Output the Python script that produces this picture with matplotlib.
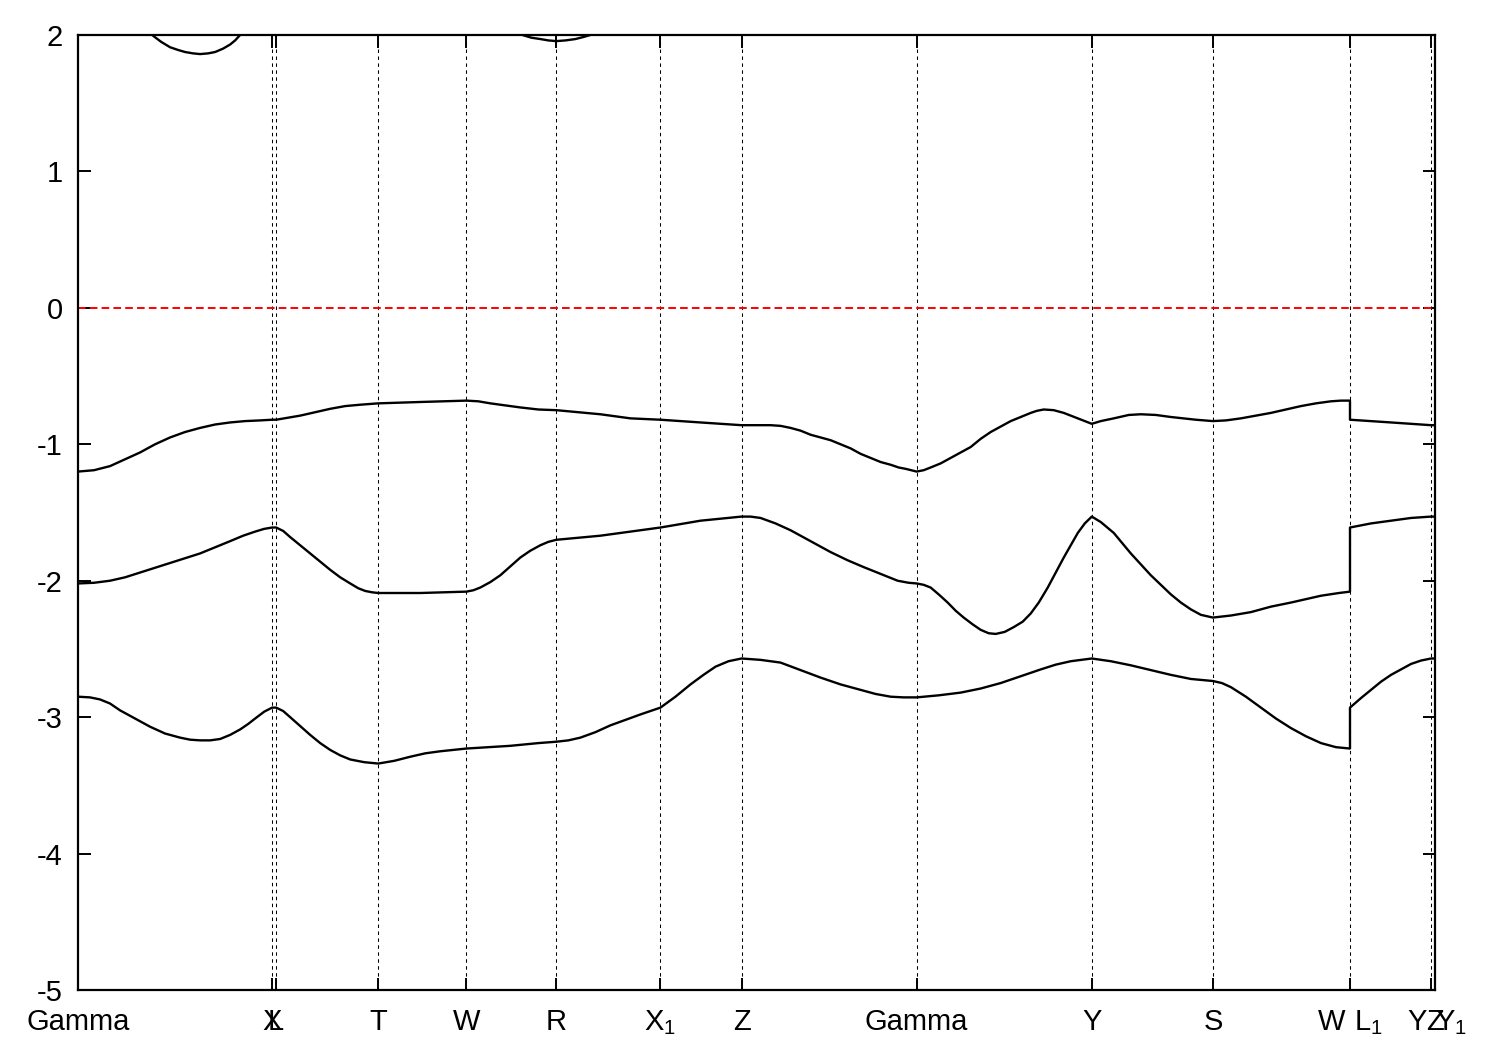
import numpy as np
import matplotlib
matplotlib.use("Agg")
import matplotlib.pyplot as plt

plt.rcParams['font.family'] = ['Liberation Sans', 'DejaVu Sans']
plt.rcParams['mathtext.default'] = 'regular'
plt.rcParams['axes.unicode_minus'] = False
plt.rcParams['lines.scale_dashes'] = False

# high-symmetry points along the path
kpts = [0.00, 1.94, 1.98, 3.00, 3.88, 4.78, 5.82, 6.63, 8.38, 10.13, 11.34, 12.71, 13.52, 13.56]
klabels = ["Gamma", "X", "L", "T", "W", "R", "X$_1$", "Z", "Gamma", "Y", "S", "", "", "Z"]
# combined labels at discontinuities: (k, left label, right label)
combo_labels = [(12.71, "W", "L$_1$"), (13.52, "Y", "Y$_1$")]

yticks = [2, 1, 0, -1, -2, -3, -4, -5]

# band 1 (top valence band)
k1 = [0.00, 0.16, 0.32, 0.47, 0.62, 0.77, 0.92, 1.07, 1.22, 1.37, 1.52, 1.67, 1.82, 1.94,
      1.98, 2.10, 2.22, 2.37, 2.52, 2.67, 2.82, 3.00,
      3.42, 3.88,
      4.00, 4.12, 4.27, 4.42, 4.60, 4.78,
      5.00, 5.22, 5.52, 5.82,
      6.22, 6.63,
      6.92, 7.02, 7.12, 7.22, 7.32, 7.42, 7.52, 7.62, 7.72, 7.82, 7.92, 8.02, 8.12, 8.20, 8.27, 8.38,
      8.45, 8.52, 8.62, 8.72, 8.82, 8.92, 9.02, 9.12, 9.22, 9.32, 9.42, 9.52, 9.58, 9.65, 9.75,
      9.85, 9.99, 10.13,
      10.22, 10.35, 10.50, 10.62, 10.77, 10.92, 11.17, 11.34,
      11.47, 11.62, 11.77, 11.92, 12.07, 12.22, 12.37, 12.52, 12.62, 12.71,
      12.71, 13.12, 13.52, 13.56]
e1 = [-1.20, -1.19, -1.16, -1.11, -1.06, -1.00, -0.95, -0.91, -0.88, -0.855, -0.84, -0.83, -0.825, -0.82,
      -0.82, -0.805, -0.79, -0.765, -0.74, -0.72, -0.71, -0.70,
      -0.69, -0.68,
      -0.685, -0.70, -0.715, -0.73, -0.745, -0.75,
      -0.765, -0.78, -0.81, -0.82,
      -0.84, -0.86,
      -0.86, -0.865, -0.88, -0.90, -0.93, -0.95, -0.97, -1.00, -1.03, -1.07, -1.10, -1.13, -1.15, -1.17, -1.18, -1.20,
      -1.19, -1.17, -1.14, -1.10, -1.06, -1.02, -0.96, -0.91, -0.87, -0.83, -0.80, -0.77, -0.755, -0.745, -0.75,
      -0.77, -0.81, -0.85,
      -0.83, -0.81, -0.785, -0.78, -0.785, -0.80, -0.82, -0.83,
      -0.825, -0.81, -0.79, -0.77, -0.745, -0.72, -0.70, -0.685, -0.68, -0.68,
      -0.82, -0.84, -0.86, -0.86]

# band 2
k2 = [0.00, 0.16, 0.32, 0.47, 0.62, 0.77, 0.92, 1.07, 1.22, 1.37, 1.52, 1.65, 1.77, 1.86, 1.94,
      1.98, 2.05, 2.12, 2.22, 2.32, 2.42, 2.52, 2.62, 2.72, 2.80, 2.87, 2.94, 3.00,
      3.42, 3.88,
      3.95, 4.02, 4.12, 4.22, 4.32, 4.42, 4.52, 4.62, 4.70, 4.78,
      5.22, 5.52, 5.82,
      6.22, 6.63,
      6.72, 6.82, 6.97, 7.12, 7.32, 7.52, 7.69, 7.85, 8.02, 8.19, 8.30, 8.38,
      8.45, 8.52, 8.60, 8.69, 8.77, 8.85, 8.94, 9.02, 9.10, 9.17, 9.26, 9.35, 9.44, 9.52, 9.60,
      9.69, 9.77, 9.85, 9.92, 9.99, 10.06, 10.13,
      10.22, 10.35, 10.52, 10.62, 10.72, 10.82, 10.92, 11.02, 11.12, 11.22, 11.34,
      11.52, 11.72, 11.92, 12.12, 12.42, 12.60, 12.71,
      12.71, 12.92, 13.12, 13.32, 13.52, 13.56]
e2 = [-2.02, -2.015, -2.00, -1.975, -1.94, -1.905, -1.87, -1.835, -1.80, -1.755, -1.71, -1.67, -1.64, -1.62, -1.61,
      -1.61, -1.635, -1.68, -1.74, -1.80, -1.86, -1.92, -1.975, -2.02, -2.055, -2.075, -2.085, -2.09,
      -2.09, -2.08,
      -2.07, -2.05, -2.01, -1.96, -1.895, -1.83, -1.78, -1.74, -1.715, -1.70,
      -1.67, -1.64, -1.61,
      -1.56, -1.53,
      -1.53, -1.54, -1.58, -1.63, -1.71, -1.79, -1.85, -1.90, -1.95, -2.00, -2.015, -2.02,
      -2.03, -2.05, -2.10, -2.16, -2.22, -2.27, -2.32, -2.36, -2.385, -2.39, -2.375, -2.34, -2.30, -2.24, -2.16,
      -2.05, -1.94, -1.83, -1.74, -1.65, -1.58, -1.53,
      -1.57, -1.65, -1.80, -1.88, -1.96, -2.03, -2.10, -2.16, -2.21, -2.25, -2.27,
      -2.255, -2.23, -2.19, -2.16, -2.11, -2.09, -2.08,
      -1.61, -1.58, -1.56, -1.54, -1.53, -1.53]

# band 3
k3 = [0.00, 0.12, 0.22, 0.32, 0.42, 0.57, 0.72, 0.87, 1.02, 1.12, 1.22, 1.32, 1.42, 1.52, 1.62,
      1.70, 1.77, 1.86, 1.94,
      1.98, 2.05, 2.12, 2.22, 2.32, 2.42, 2.52, 2.62, 2.72, 2.86, 3.00,
      3.16, 3.32, 3.47, 3.62, 3.88,
      4.32, 4.60, 4.78,
      4.90, 5.02, 5.17, 5.32, 5.47, 5.62, 5.72, 5.82,
      5.97, 6.12, 6.25, 6.37, 6.50, 6.63,
      6.82, 7.02, 7.22, 7.42, 7.62, 7.82, 7.97, 8.12, 8.25, 8.38,
      8.60, 8.82, 9.02, 9.22, 9.42, 9.62, 9.77, 9.92, 10.13,
      10.32, 10.52, 10.72, 10.92, 11.12, 11.34,
      11.43, 11.52, 11.67, 11.82, 11.97, 12.12, 12.27, 12.42, 12.57, 12.71,
      12.71, 12.82, 12.92, 13.02, 13.12, 13.22, 13.32, 13.42, 13.52, 13.56]
e3 = [-2.85, -2.855, -2.87, -2.90, -2.95, -3.01, -3.07, -3.12, -3.15, -3.165, -3.17, -3.17, -3.16, -3.13, -3.09,
      -3.05, -3.01, -2.96, -2.93,
      -2.93, -2.955, -3.00, -3.065, -3.13, -3.19, -3.24, -3.28, -3.31, -3.33, -3.34,
      -3.32, -3.29, -3.265, -3.25, -3.23,
      -3.21, -3.19, -3.18,
      -3.17, -3.15, -3.11, -3.06, -3.02, -2.98, -2.955, -2.93,
      -2.85, -2.76, -2.69, -2.63, -2.59, -2.57,
      -2.58, -2.60, -2.655, -2.71, -2.76, -2.80, -2.83, -2.85, -2.855, -2.855,
      -2.84, -2.82, -2.79, -2.75, -2.70, -2.65, -2.615, -2.59, -2.57,
      -2.59, -2.62, -2.655, -2.69, -2.72, -2.735,
      -2.75, -2.78, -2.85, -2.93, -3.01, -3.08, -3.14, -3.19, -3.22, -3.23,
      -2.93, -2.86, -2.80, -2.74, -2.69, -2.65, -2.61, -2.585, -2.57, -2.57]

# conduction band (only dips below the top of the window are visible)
kc = [0.50, 0.62, 0.74, 0.83, 0.92, 1.00, 1.07, 1.15, 1.22, 1.30, 1.37, 1.45, 1.52, 1.57, 1.62, 1.80,
      np.nan,
      4.30, 4.44, 4.53, 4.62, 4.70, 4.78, 4.87, 4.97, 5.05, 5.12, 5.30]
ec = [2.20, 2.10, 2.00, 1.95, 1.91, 1.89, 1.875, 1.865, 1.86, 1.865, 1.875, 1.90, 1.93, 1.96, 2.00, 2.15,
      np.nan,
      2.10, 2.00, 1.98, 1.97, 1.96, 1.955, 1.96, 1.97, 1.985, 2.00, 2.10]

fermi = 0.0

fig = plt.figure(figsize=(15, 10.5), dpi=100)
ax = fig.add_axes([0.052, 0.0571, 0.9047, 0.9096])

kmin, kmax = kpts[0], kpts[-1]
ax.set_xlim(kmin, kmax)
ax.set_ylim(-5, 2)

for k in kpts[1:]:
    ax.axvline(k, color='black', lw=0.75, linestyle=(0, (2.5, 2.5)), zorder=1)

ax.plot([kmin, kmax], [fermi, fermi], color='#ff0000', lw=1.4,
        linestyle=(0, (5.5, 3.0)), zorder=2)

for kk, ee in [(k1, e1), (k2, e2), (k3, e3), (kc, ec)]:
    ax.plot(kk, ee, color='black', lw=1.7, zorder=3, solid_joinstyle='round')

fs = 21
ax.set_xticks(kpts)
ax.set_xticklabels(klabels, fontsize=fs)
ax.set_yticks(yticks)
ax.set_yticklabels([str(v) for v in yticks], fontsize=fs)
ax.tick_params(axis='both', direction='in', length=9, width=1.4, top=True, right=True)
ax.tick_params(axis='x', pad=13)
ax.tick_params(axis='y', pad=11)

for k, left, right in combo_labels:
    ax.annotate(left, xy=(k, 0), xycoords=('data', 'axes fraction'),
                xytext=(-3, -13), textcoords='offset points',
                ha='right', va='top', fontsize=fs)
    ax.annotate(right, xy=(k, 0), xycoords=('data', 'axes fraction'),
                xytext=(3, -13), textcoords='offset points',
                ha='left', va='top', fontsize=fs)

for s in ax.spines.values():
    s.set_linewidth(1.6)

fig.savefig("out.png", dpi=100)
